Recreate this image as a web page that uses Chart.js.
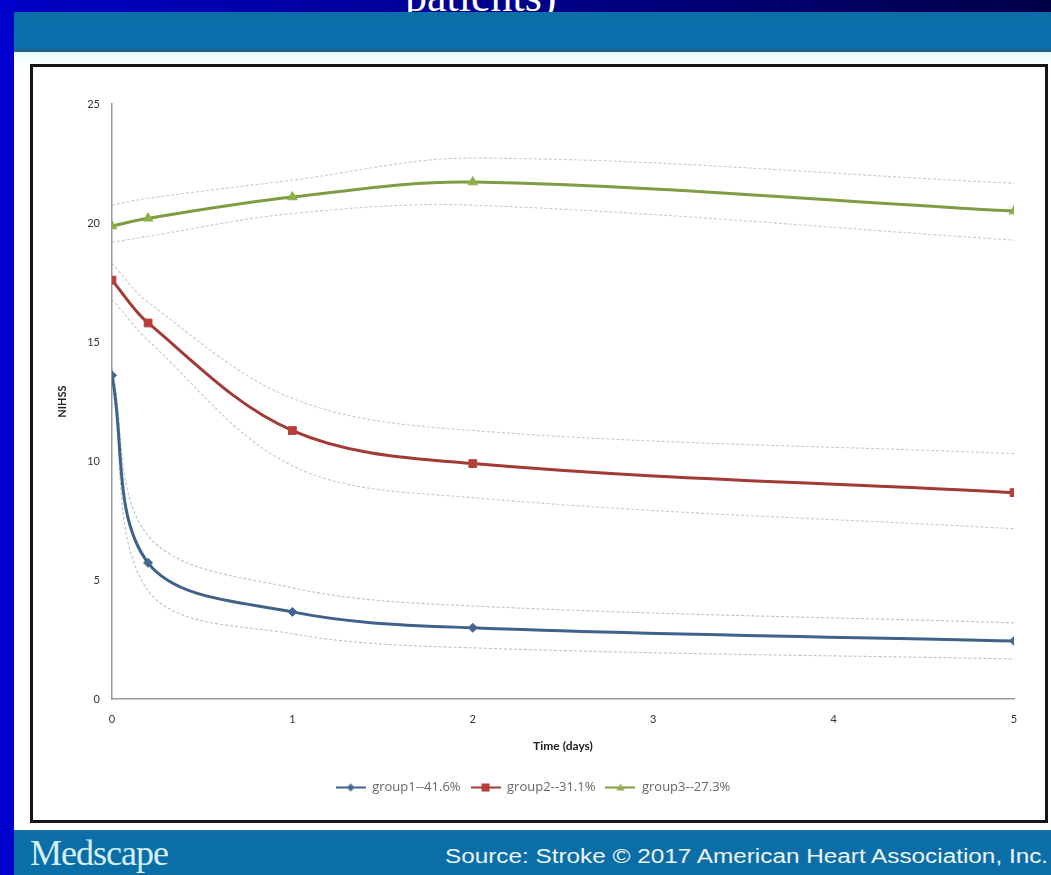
<!DOCTYPE html>
<html>
<head>
<meta charset="utf-8">
<script src="https://cdn.jsdelivr.net/npm/chart.js@4.4.1/dist/chart.umd.min.js"></script>
<style>
  body { margin: 0; width: 1051px; height: 875px; overflow: hidden; background: #0000cc; position: relative; font-family: "Liberation Sans", Arial, sans-serif; }
  .abs { position: absolute; }
  #topbar { left: 14px; top: 0; width: 1037px; height: 12px; background: linear-gradient(to right, #0000c4, #00008a 50%, #000048); }
  #title { left: 405px; top: -25px; font: 44px/44px "Liberation Serif", "Times New Roman", serif; color: #fff; white-space: nowrap; }
  #header { left: 14px; top: 12px; width: 1037px; height: 40px; background: linear-gradient(#0b6ea8, #0970ab 88%, #2a5d7c); }
  #light { left: 14px; top: 52px; width: 1037px; height: 778px; background: linear-gradient(#e6f8fa, #fbffff 12px, #fff 30px); }
  #panel { left: 30px; top: 64px; width: 1012px; height: 753px; border: 3px solid #151515; background: #fff; }
  #footer { left: 14px; top: 830px; width: 1037px; height: 45px; background: linear-gradient(#1a6f9f, #0b6ea8 10%, #0c6ea6); }
  #logo { left: 30px; top: 835px; font: 36px/36px "Liberation Serif", "Times New Roman", serif; color: #d4f0f8; letter-spacing: -1px; }
  #source { right: 3px; top: 846px; font: 20px/20px "Liberation Sans", Arial, sans-serif; color: #eef6fb; white-space: nowrap; transform-origin: right center; }
</style>
</head>
<body>
<div id="light" class="abs"></div>
<div id="topbar" class="abs"></div>
<div id="title" class="abs">patients)</div>
<div id="header" class="abs"></div>
<div id="panel" class="abs"><canvas id="chart" width="1012" height="753"></canvas></div>
<div id="footer" class="abs"></div>
<div id="logo" class="abs">Medscape</div>
<div id="source" class="abs">Source: Stroke © 2017 American Heart Association, Inc.</div>
<script>
// time points (days)
const days = [0, 0.2, 1, 2, 5];
const groupNames = ['group1--41.6%', 'group2--31.1%', 'group3--27.3%'];

// mean NIHSS per group
const group1 = [13.6, 5.72, 3.66, 2.99, 2.44];
const group2 = [17.6, 15.8, 11.28, 9.89, 8.67];
const group3 = [19.87, 20.2, 21.09, 21.72, 20.5];

// confidence bands
const group1Upper = [13.9, 6.86, 4.67, 3.91, 3.2];
const group1Lower = [13.3, 4.55, 2.74, 2.15, 1.68];
const group2Upper = [18.3, 16.67, 12.63, 11.28, 10.31];
const group2Lower = [16.8, 15.07, 9.8, 8.46, 7.15];
const group3Upper = [20.75, 21.04, 21.8, 22.73, 21.67];
const group3Lower = [19.19, 19.44, 20.4, 20.75, 19.28];

const yTicks = [0, 5, 10, 15, 20, 25];
const xTicks = [0, 1, 2, 3, 4, 5];

const lineColors = ['#40618a', '#a23a36', '#7f9c42'];
const markerColors = ['#44678f', '#b53f3a', '#8fae4c'];
const markers = ['rectRot', 'rect', 'triangle'];
const markerSizes = [4.5, 5.5, 5.5];
const bandColors = ['rgba(140,150,175,0.6)', 'rgba(190,155,150,0.6)', 'rgba(165,168,158,0.6)'];

function pts(vals) {
  return vals.map((v, i) => ({ x: days[i], y: v }));
}

function mainSet(i, vals) {
  return {
    label: groupNames[i],
    data: pts(vals),
    borderColor: lineColors[i],
    backgroundColor: markerColors[i],
    borderWidth: 3,
    pointStyle: markers[i],
    pointRadius: markerSizes[i],
    pointBorderWidth: 1,
    pointBorderColor: markerColors[i],
    tension: 0.35,
    order: 0
  };
}

function bandSet(i, vals) {
  return {
    label: '',
    data: pts(vals),
    borderColor: bandColors[i],
    borderWidth: 1.1,
    borderDash: [3, 2],
    pointRadius: 0,
    tension: 0.35,
    order: 1
  };
}

function legendIcon(i) {
  const c = document.createElement('canvas');
  c.width = 30; c.height = 12;
  const g = c.getContext('2d');
  g.strokeStyle = lineColors[i];
  g.lineWidth = 2;
  g.beginPath(); g.moveTo(0, 6); g.lineTo(30, 6); g.stroke();
  g.fillStyle = markerColors[i];
  g.beginPath();
  if (i === 0) { g.moveTo(15, 2); g.lineTo(19, 6); g.lineTo(15, 10); g.lineTo(11, 6); }
  else if (i === 1) { g.rect(11, 2, 8, 8); }
  else { g.moveTo(15, 2); g.lineTo(19, 9); g.lineTo(11, 9); }
  g.closePath(); g.fill();
  return c;
}
const icons = [0, 1, 2].map(legendIcon);

const tickFont = { family: 'Lato, "Open Sans", sans-serif', size: 11 };

new Chart('chart', {
  type: 'line',
  data: {
    datasets: [
      mainSet(0, group1), mainSet(1, group2), mainSet(2, group3),
      bandSet(0, group1Upper), bandSet(0, group1Lower),
      bandSet(1, group2Upper), bandSet(1, group2Lower),
      bandSet(2, group3Upper), bandSet(2, group3Lower)
    ]
  },
  options: {
    responsive: false,
    animation: false,
    layout: { padding: { left: 19, right: 31, top: 37, bottom: 16 } },
    plugins: {
      tooltip: { enabled: false },
      legend: {
        position: 'bottom',
        labels: {
          usePointStyle: true,
          pointStyleWidth: 30,
          color: '#666',
          font: { family: '"Open Sans", Lato, sans-serif', size: 13 },
          padding: 10,
          generateLabels: (chart) => groupNames.map((n, i) => ({
            text: n, pointStyle: icons[i], datasetIndex: i,
            fontColor: '#666', lineWidth: 0, strokeStyle: 'transparent', fillStyle: 'transparent'
          }))
        }
      }
    },
    scales: {
      x: {
        type: 'linear', min: 0, max: 5,
        afterFit: (s) => { s.height = 72; },
        afterBuildTicks: (s) => { s.ticks = xTicks.map(v => ({ value: v })); },
        grid: { display: false, drawTicks: false },
        border: { color: '#999', width: 1.5 },
        ticks: { color: '#333', font: tickFont, padding: 14 },
        title: { display: true, text: 'Time (days)', color: '#222', font: { family: 'Lato, "Open Sans", sans-serif', size: 12, weight: 'bold' }, padding: { top: 4, bottom: 18 } }
      },
      y: {
        min: 0, max: 25,
        afterFit: (s) => { s.width = 60; },
        afterBuildTicks: (s) => { s.ticks = yTicks.map(v => ({ value: v })); },
        grid: { display: false, drawTicks: false },
        border: { color: '#999', width: 1.5 },
        ticks: { color: '#333', font: tickFont, padding: 12 },
        title: { display: true, text: 'NIHSS', color: '#222', font: { family: 'Lato, "Open Sans", sans-serif', size: 11, weight: 'bold' }, padding: 4 }
      }
    }
  }
});

// stretch the source line to the width it takes in the slide
const src = document.getElementById('source');
src.style.transform = 'scaleX(' + (603 / src.offsetWidth) + ')';
</script>
</body>
</html>
